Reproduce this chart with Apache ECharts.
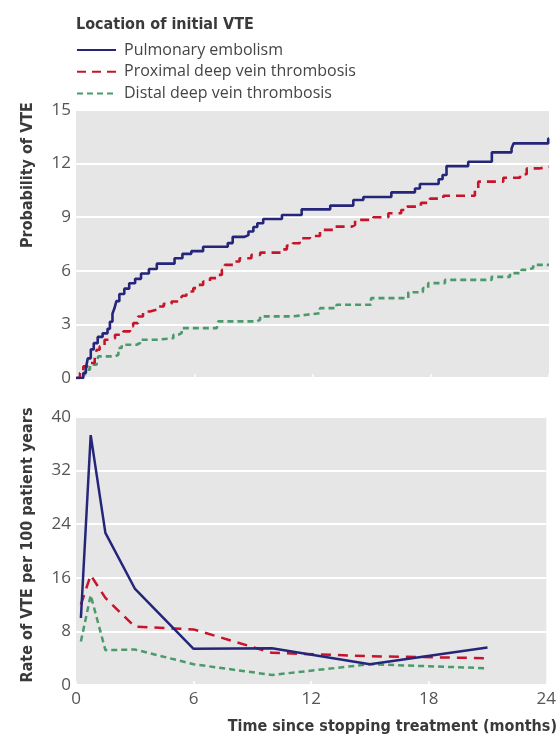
<!DOCTYPE html>
<html>
<head>
<meta charset="utf-8">
<script src="https://cdn.jsdelivr.net/npm/echarts@6/dist/echarts.min.js"></script>
<style>
html,body{margin:0;padding:0;background:#fff;}
#c{width:559px;height:740px;}
</style>
</head>
<body>
<div id="c"></div>
<script>
// ---- Data ----
var seriesNames = ['Pulmonary embolism', 'Proximal deep vein thrombosis', 'Distal deep vein thrombosis'];
var legendTitle = 'Location of initial VTE';
var topYTitle = 'Probability of VTE';
var bottomYTitle = 'Rate of VTE per 100 patient years';
var xTitle = 'Time since stopping treatment (months)';

// Cumulative probability (%), step curves: [months, probability]
var pePoints = [[0,0],[0.37,0.28],[0.5,0.56],[0.6,1.1],[0.75,1.6],[0.9,1.95],[1.1,2.3],[1.35,2.5],[1.6,2.75],[1.72,3.15],[1.85,3.6],[1.95,3.9],[2.05,4.3],[2.2,4.7],[2.45,5.0],[2.7,5.3],[3.0,5.55],[3.3,5.85],[3.7,6.1],[4.1,6.4],[5.0,6.7],[5.4,6.95],[5.85,7.1],[6.45,7.35],[7.7,7.55],[7.95,7.9],[8.55,8.0],[8.75,8.2],[9.0,8.45],[9.2,8.66],[9.5,8.9],[10.45,9.12],[11.45,9.44],[12.9,9.65],[14.07,9.96],[14.58,10.13],[16.0,10.39],[17.2,10.61],[17.45,10.86],[18.4,11.12],[18.6,11.36],[18.8,11.86],[19.9,12.1],[21.1,12.63],[22.1,12.85],[22.2,13.13],[23.96,13.4],[24,13.4]];
var proxPoints = [[0,0],[0.2,0.28],[0.37,0.65],[0.7,0.84],[0.95,1.2],[1.05,1.58],[1.2,1.77],[1.45,2.14],[1.7,2.23],[1.98,2.42],[2.4,2.61],[2.74,2.89],[2.9,3.07],[3.15,3.44],[3.4,3.72],[3.75,3.82],[4.1,4.0],[4.45,4.15],[4.85,4.28],[5.3,4.45],[5.4,4.6],[5.6,4.84],[5.95,5.03],[6.2,5.21],[6.45,5.4],[6.8,5.59],[7.15,5.77],[7.4,6.05],[7.55,6.33],[8.0,6.52],[8.3,6.7],[8.9,6.89],[9.35,7.02],[10.4,7.2],[10.7,7.41],[11.0,7.54],[11.35,7.82],[11.87,7.95],[12.38,8.29],[13.14,8.47],[14.0,8.57],[14.16,8.85],[15.08,9.0],[15.85,9.22],[16.5,9.4],[16.8,9.59],[17.5,9.8],[17.96,10.04],[18.64,10.2],[20.24,10.52],[20.41,10.99],[21.68,11.21],[22.53,11.4],[22.87,11.73],[23.5,11.82],[24,11.82]];
var distPoints = [[0,0],[0.2,0.2],[0.46,0.47],[0.71,0.74],[1.05,0.93],[1.13,1.21],[1.98,1.3],[2.15,1.68],[2.32,1.86],[3.08,1.96],[3.25,2.14],[4.09,2.23],[4.94,2.42],[5.19,2.51],[5.36,2.79],[7.14,2.89],[7.22,3.17],[9.17,3.26],[9.34,3.45],[11.03,3.54],[11.7,3.63],[12.38,3.91],[13.22,4.1],[14.97,4.47],[16.86,4.8],[17.6,5.03],[17.87,5.31],[18.72,5.49],[21.09,5.66],[22.02,5.87],[22.6,6.05],[22.87,6.15],[23.2,6.33],[24,6.33]];

// Rate per 100 patient years at interval midpoints (months)
var rateMonths = [0.25, 0.75, 1.5, 3, 6, 10, 15, 21];
var peRate   = [10.0, 37.3, 22.7, 14.4, 5.4, 5.5, 3.1, 5.6];
var proxRate = [12.0, 16.4, 13.0, 8.7, 8.3, 4.8, 4.3, 4.0];
var distRate = [6.5, 13.4, 5.2, 5.3, 3.1, 1.5, 3.1, 2.5];

var topYTicks = {min: 0, max: 15, interval: 3};
var bottomYTicks = {min: 0, max: 40, interval: 8};
var xTicks = {min: 0, max: 24, interval: 6};

// ---- Styles ----
var colors = ['#25267a', '#c8142a', '#4a9a6b'];
var dashes = ['solid', [9, 6], [6, 4]];
var dashesBottom = ['solid', [10, 7], [6, 4]];
var labelFont = "'Open Sans', sans-serif";
var boldFont = "'Liberation Sans Narrow', 'DejaVu Sans Condensed', sans-serif";

function zip(xs, ys) { return xs.map(function (x, i) { return [x, ys[i]]; }); }

var chart = echarts.init(document.getElementById('c'), null, {renderer: 'canvas'});

var tickStyle = {show: true, inside: true, length: 4, lineStyle: {color: '#ffffff', width: 1.5}};
var gridBg = {show: true, backgroundColor: '#e6e6e6', borderWidth: 0};

var stepData = [pePoints, proxPoints, distPoints];
var rateData = [peRate, proxRate, distRate];

var series = [];
for (var i = 0; i < 3; i++) {
  series.push({
    name: seriesNames[i], type: 'line', xAxisIndex: 0, yAxisIndex: 0,
    step: 'end', symbol: 'none', data: stepData[i], z: 3 - i + 2,
    lineStyle: {color: colors[i], width: 2.6, type: dashes[i]},
    itemStyle: {color: colors[i]}
  });
}
for (var j = 0; j < 3; j++) {
  series.push({
    name: seriesNames[j], type: 'line', xAxisIndex: 1, yAxisIndex: 1,
    symbol: 'none', data: zip(rateMonths, rateData[j]), z: 3 - j + 2,
    lineStyle: {color: colors[j], width: 2.5, type: dashesBottom[j]},
    itemStyle: {color: colors[j]}
  });
}

var option = {
  animation: false,
  backgroundColor: '#ffffff',
  grid: [
    Object.assign({left: 76, right: 10, top: 110, height: 268}, gridBg),
    Object.assign({left: 76, right: 10, top: 417, height: 268}, gridBg)
  ],
  legend: {
    data: seriesNames.map(function (n) { return {name: n}; }),
    orient: 'vertical', left: 76, top: 42, padding: 0,
    itemWidth: 39, itemHeight: 14, itemGap: 5.8,
    itemStyle: {color: 'transparent', borderWidth: 0, opacity: 0},
    textStyle: {fontFamily: labelFont, fontSize: 16, color: '#454545', padding: [0, 0, 0, 3]},
    selectedMode: false
  },
  xAxis: [
    {gridIndex: 0, type: 'value', min: xTicks.min, max: xTicks.max, interval: xTicks.interval,
     axisLine: {show: false}, axisTick: tickStyle, axisLabel: {show: false}, splitLine: {show: false}},
    {gridIndex: 1, type: 'value', min: xTicks.min, max: xTicks.max, interval: xTicks.interval,
     axisLine: {show: false}, axisTick: tickStyle,
     axisLabel: {fontFamily: labelFont, fontSize: 17, color: '#555555', margin: 6},
     splitLine: {show: false}}
  ],
  yAxis: [
    {gridIndex: 0, type: 'value', min: topYTicks.min, max: topYTicks.max, interval: topYTicks.interval,
     axisLine: {show: false}, axisTick: {show: false},
     axisLabel: {fontFamily: labelFont, fontSize: 17, color: '#555555', margin: 5},
     splitLine: {show: true, lineStyle: {color: '#ffffff', width: 2}}},
    {gridIndex: 1, type: 'value', min: bottomYTicks.min, max: bottomYTicks.max, interval: bottomYTicks.interval,
     axisLine: {show: false}, axisTick: {show: false},
     axisLabel: {fontFamily: labelFont, fontSize: 17, color: '#555555', margin: 5},
     splitLine: {show: true, lineStyle: {color: '#ffffff', width: 2}}}
  ],
  graphic: [
    {type: 'text', left: 76, top: 17, style: {text: legendTitle, font: 'bold 16px ' + boldFont, fill: '#3a3a3a'}},
    {type: 'text', x: 28, y: 175, rotation: Math.PI / 2,
     style: {text: topYTitle, font: 'bold 16px ' + boldFont, fill: '#3a3a3a', align: 'center', verticalAlign: 'middle'}},
    {type: 'text', x: 28, y: 545, rotation: Math.PI / 2,
     style: {text: bottomYTitle, font: 'bold 16px ' + boldFont, fill: '#3a3a3a', align: 'center', verticalAlign: 'middle'}},
    {type: 'text', right: 2, top: 719, style: {text: xTitle, font: 'bold 16px ' + boldFont, fill: '#3a3a3a'}}
  ],
  series: series
};
chart.setOption(option);
</script>
</body>
</html>
